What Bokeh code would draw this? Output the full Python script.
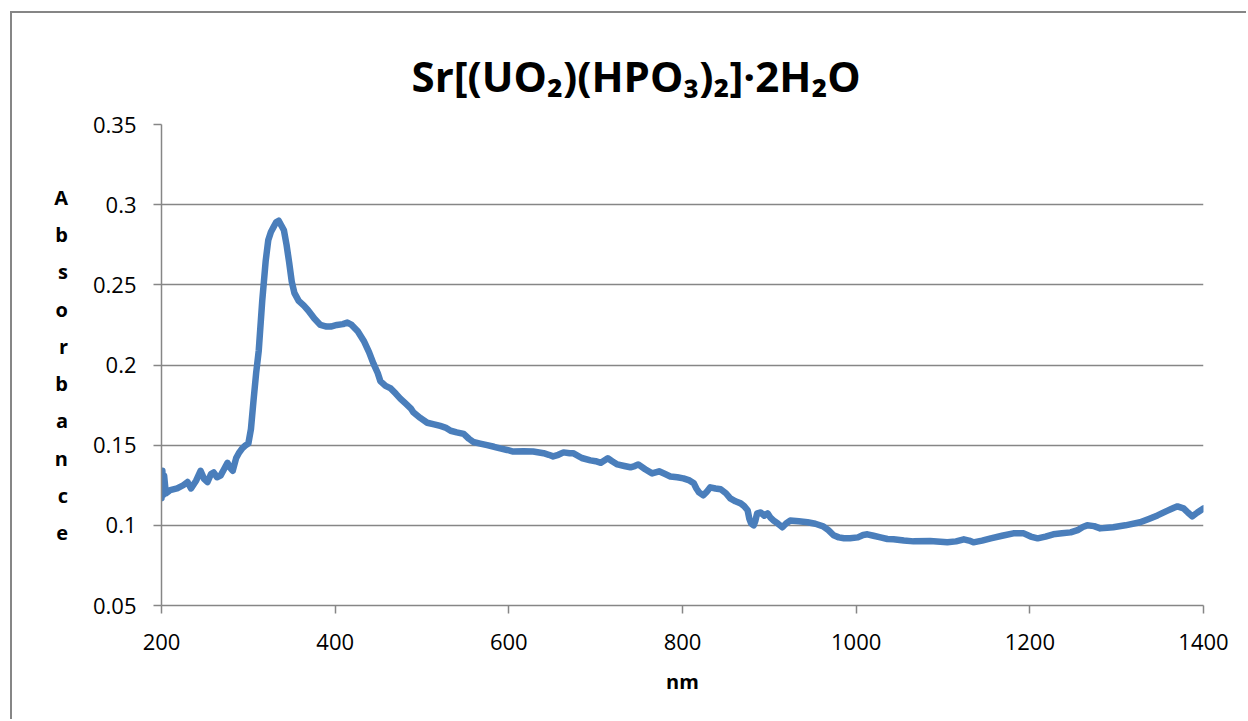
from bokeh.plotting import figure
from bokeh.models import FixedTicker, Range1d
from bokeh.embed import file_html
from bokeh.resources import INLINE

# ---- data ----
wavelength_nm = [
    200, 201, 202, 203, 205, 210, 218, 225, 230, 234, 240, 245, 249, 253, 257, 260, 264, 268,
    272, 276, 279, 282, 286, 289, 293, 297, 300, 303, 306, 309, 312, 316, 320, 323, 326, 329,
    332, 335, 338, 341, 344, 347, 350, 353, 358, 364, 369, 376, 383, 390, 395, 402, 409, 414,
    419, 426, 433, 439, 444, 449, 452, 458, 464, 470, 475, 481, 487, 490, 498, 506, 514, 521,
    527, 533, 540, 548, 554, 559, 567, 575, 583, 590, 598, 605, 617, 628, 640, 646, 651, 657,
    663, 670, 674, 684, 694, 700, 706, 714, 719, 725, 733, 740, 745, 749, 757, 765, 773, 780,
    786, 794, 801, 808, 813, 816, 819, 824, 828, 832, 838, 844, 850, 855, 861, 867, 871, 875,
    877, 879, 882, 884, 886, 890, 894, 898, 901, 905, 910, 915, 919, 924, 934, 944, 953, 962,
    968, 974, 980, 986, 993, 1002, 1008, 1013, 1020, 1028, 1036, 1043, 1055, 1066, 1085, 1105,
    1115, 1124, 1130, 1135, 1145, 1155, 1168, 1181, 1193, 1201, 1209, 1218, 1227, 1237, 1247,
    1255, 1261, 1266, 1274, 1281, 1289, 1296, 1310, 1327, 1337, 1347, 1358, 1366, 1370, 1377,
    1382, 1387, 1393, 1400,
]
absorbance = [
    0.117, 0.134, 0.119, 0.131, 0.120, 0.122, 0.123, 0.125, 0.127, 0.123, 0.128, 0.134, 0.129,
    0.127, 0.132, 0.133, 0.130, 0.131, 0.135, 0.139, 0.136, 0.134, 0.142, 0.145, 0.148, 0.150,
    0.151, 0.160, 0.178, 0.195, 0.209, 0.240, 0.265, 0.278, 0.283, 0.286, 0.289, 0.290, 0.287,
    0.284, 0.275, 0.264, 0.252, 0.245, 0.240, 0.237, 0.234, 0.229, 0.225, 0.224, 0.224, 0.225,
    0.2255, 0.2265, 0.225, 0.221, 0.215, 0.208, 0.201, 0.195, 0.190, 0.187, 0.1854, 0.182,
    0.179, 0.176, 0.173, 0.1705, 0.167, 0.164, 0.163, 0.162, 0.161, 0.159, 0.158, 0.157, 0.154,
    0.152, 0.151, 0.150, 0.149, 0.148, 0.147, 0.146, 0.1462, 0.146, 0.145, 0.144, 0.143, 0.144,
    0.1455, 0.145, 0.145, 0.142, 0.1405, 0.140, 0.139, 0.1418, 0.140, 0.138, 0.137, 0.1362,
    0.137, 0.138, 0.135, 0.1324, 0.1337, 0.132, 0.1305, 0.130, 0.1293, 0.128, 0.1262, 0.123,
    0.1206, 0.1187, 0.121, 0.1237, 0.123, 0.1225, 0.120, 0.1168, 0.115, 0.1137, 0.112, 0.1094,
    0.104, 0.1012, 0.100, 0.103, 0.1075, 0.108, 0.106, 0.1075, 0.105, 0.103, 0.101, 0.0988,
    0.101, 0.103, 0.1025, 0.1019, 0.101, 0.0994, 0.097, 0.0938, 0.0925, 0.0919, 0.092, 0.0925,
    0.094, 0.0944, 0.0935, 0.0925, 0.0915, 0.0913, 0.0905, 0.090, 0.0902, 0.0894, 0.090, 0.0913,
    0.0905, 0.0894, 0.0905, 0.0919, 0.0935, 0.095, 0.095, 0.093, 0.0919, 0.093, 0.0944, 0.095,
    0.0956, 0.097, 0.099, 0.100, 0.0995, 0.0981, 0.0985, 0.0988, 0.1, 0.1019, 0.104, 0.1062,
    0.109, 0.111, 0.1118, 0.1106, 0.108, 0.1056, 0.108, 0.1106,
]

x_ticks = [200, 400, 600, 800, 1000, 1200, 1400]
y_ticks = [0.05, 0.1, 0.15, 0.2, 0.25, 0.3, 0.35]
y_tick_labels = ["0.05", "0.1", "0.15", "0.2", "0.25", "0.3", "0.35"]

title_text = "Sr[(UO₂)(HPO₃)₂]·2H₂O"
x_label = "nm"
y_label = "Absorbance"

GRAY = "#868686"
BLUE = "#4A7EBB"
FONT = "Open Sans"

p = figure(
    width=1236, height=708,
    output_backend="svg", toolbar_location=None,
    x_range=Range1d(200, 1400), y_range=Range1d(0.05, 0.35),
    min_border_left=149, min_border_right=45, min_border_top=111, min_border_bottom=116,
    title=title_text,
)
p.styles = {
    "margin-left": "10px", "margin-top": "11px",
    "border-left": f"2px solid {GRAY}", "border-top": f"2px solid {GRAY}",
}

p.title.align = "left"
p.title.vertical_align = "top"
p.title.text_font = FONT
p.title.text_font_size = "42px"
p.title.text_font_style = "bold"
p.title.text_color = "black"
p.title.text_line_height = 1.0
p.title.offset = 250
p.title.standoff = 37

p.outline_line_color = None
p.background_fill_color = "white"
p.border_fill_color = "white"

p.line(wavelength_nm, absorbance, line_color=BLUE, line_width=6.5, line_join="round", line_cap="round")

# axes
p.xaxis.ticker = FixedTicker(ticks=x_ticks)
p.yaxis.ticker = FixedTicker(ticks=y_ticks)
p.yaxis.major_label_overrides = dict(zip(y_ticks, y_tick_labels))
for ax in (p.xaxis[0], p.yaxis[0]):
    ax.axis_line_color = GRAY
    ax.axis_line_width = 1.5
    ax.major_tick_line_color = GRAY
    ax.major_tick_line_width = 1.5
    ax.major_tick_in = 0
    ax.major_tick_out = 8
    ax.minor_tick_line_color = None
    ax.major_label_text_font = FONT
    ax.major_label_text_font_size = "22px"
    ax.major_label_text_color = "black"
    ax.major_label_standoff = 17
    ax.axis_label_text_font = FONT
    ax.axis_label_text_font_style = "bold"
    ax.axis_label_text_color = "black"
    ax.axis_label_text_font_size = "20px"

p.xaxis.major_label_standoff = 20
p.xaxis.axis_label = x_label
p.xaxis.axis_label_standoff = 15

p.yaxis.axis_label = "\n".join(y_label)
p.yaxis.axis_label_orientation = "horizontal"
p.yaxis.axis_label_text_line_height = 1.38
p.yaxis.axis_label_standoff = 22

p.xgrid.grid_line_color = None
p.ygrid.grid_line_color = GRAY
p.ygrid.grid_line_width = 1.3

open("out.html", "w").write(file_html(p, INLINE))
